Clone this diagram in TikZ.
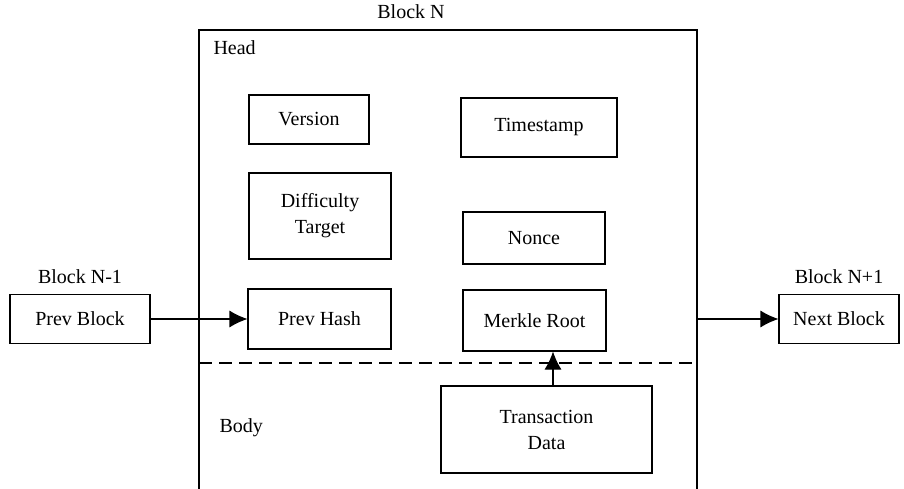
\documentclass[tikz,border=0pt]{standalone}
\usepackage{fontspec}
\setmainfont{Liberation Serif}
\usetikzlibrary{arrows.meta,
	positioning,
	calc}

\begin{document}
\begin{tikzpicture}[x=1pt, y=-1pt,
		font=\fontsize{20}{26}\selectfont,
		field/.style={draw, line width=1.1pt, align=center, inner sep=2pt},
		link/.style={-{Latex[length=18pt, width=17pt]}, line width=1.1pt}]
		\useasboundingbox (0,0) rectangle (904,489);
		% block N, open at the bottom
		\coordinate (nleft) at (199,30);
		\coordinate (nright) at (697,30);
		\draw [line width=1.1pt] (nleft |- 0,495) -- (nleft) -- (nright) -- (nright |- 0,495);
		\node (blockn) at (411,12) {Block N};
		\node [anchor=west] (head) at (210,48) {Head};
		\node [anchor=west] (body) at (216,428) {Body};
		\draw [line width=1.4pt, dash pattern=on 13pt off 7pt] (nleft |- 0,363) -- (nright |- 0,363);
		% header fields
		\node [field, minimum width=120pt, minimum height=49pt] (version) at (309,119.5) {Version};
		\node [field, minimum width=156pt, minimum height=59pt] (timestamp) at (539,127.5) {Timestamp};
		\node [field, minimum width=142pt, minimum height=86pt] (difficulty) at (320,216) {Difficulty\\Target};
		\node [field, minimum width=142pt, minimum height=52pt] (nonce) at (534,238) {Nonce};
		\node [field, minimum width=143pt, minimum height=60pt] (prevhash) at (319.5,319) {Prev Hash};
		\node [field, minimum width=143pt, minimum height=61pt] (merkle) at (534.5,320.5) {Merkle Root};
		\node [field, minimum width=211pt, minimum height=87pt] (txdata) at (546.5,429.5) {Transaction\\Data};
		% neighbours
		\node [field, minimum width=140pt, minimum height=49pt] (prevblock) at (80,319) {Prev Block};
		\node [above=7pt of prevblock] (prevname) {Block N-1};
		\node [field, minimum width=120pt, minimum height=49pt] (nextblock) at (839,319) {Next Block};
		\node [above=7pt of nextblock] (nextname) {Block N+1};
		\coordinate (nexit) at (nright |- nextblock);
		\draw [link] (prevblock) -- (prevhash);
		\draw [link] (nexit) -- (nextblock);
		\draw [link] (txdata.north -| 553,0) -- (merkle.south -| 553,0);
	\end{tikzpicture}
\end{document}
